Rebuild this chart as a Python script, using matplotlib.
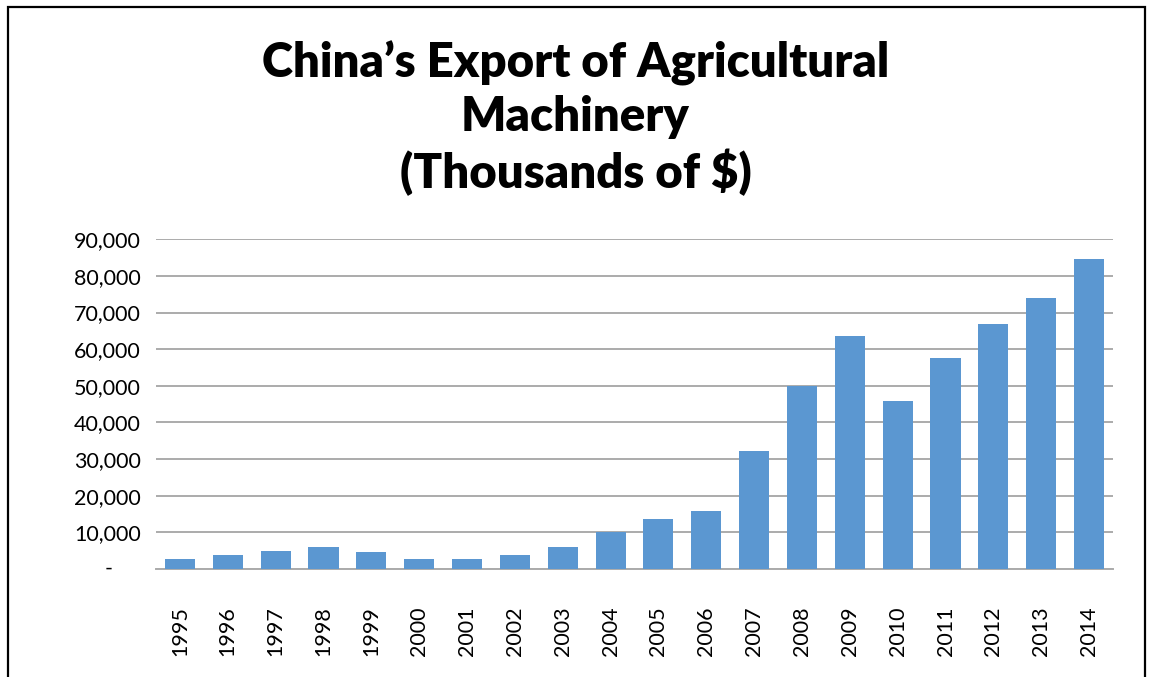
import matplotlib.pyplot as plt
import matplotlib.transforms as mtransforms
from matplotlib.patches import Rectangle
from matplotlib.ticker import FuncFormatter

# --- Export values (thousands of USD) ---
years = [str(y) for y in range(1995, 2015)]
exports = [2800, 3700, 4800, 6000, 4600, 2800, 2800, 3700, 5900, 10000,
           13700, 15900, 32300, 50000, 63600, 45800, 57500, 67000, 74000, 84500]
y_ticks = [0, 10000, 20000, 30000, 40000, 50000, 60000, 70000, 80000, 90000]

bar_color = "#5b97d1"
grid_color = "#ababab"

fig = plt.figure(figsize=(11.51, 6.77), dpi=100)

# frame around the whole chart
fig.patches.append(Rectangle((8 / 1151, -0.05), 1137 / 1151, 1.05 - 7 / 677,
                             transform=fig.transFigure, fill=False,
                             edgecolor="black", linewidth=1.6))

ax = fig.add_axes([156 / 1151, 1 - 569 / 677, 957 / 1151, (569 - 239.3) / 677])

x = range(len(years))
ax.bar(x, exports, width=0.63, color=bar_color, zorder=3)

ax.set_xlim(-0.5, len(years) - 0.5)
ax.set_ylim(0, 90000)
ax.set_yticks(y_ticks)
ax.yaxis.set_major_formatter(FuncFormatter(lambda v, p: "" if v == 0 else f"{int(v):,}"))
ax.grid(axis="y", color=grid_color, linewidth=1.4, zorder=0)

# zero is shown as a dash, accounting style
trans = mtransforms.blended_transform_factory(ax.transAxes, ax.transData)
ax.text(-0.050, y_ticks[0], "-", transform=trans, ha="center", va="center",
        fontsize=15.5, family="Lato")

ax.set_xticks(list(x))
ax.set_xticklabels(years, rotation=90, va="top")

for side in ["top", "right", "left"]:
    ax.spines[side].set_visible(False)
ax.spines["bottom"].set_color(grid_color)
ax.spines["bottom"].set_linewidth(1.4)

ax.tick_params(axis="both", length=0, labelsize=15.5, colors="black")
ax.tick_params(axis="y", pad=11)
ax.tick_params(axis="x", pad=27)
for lbl in ax.get_xticklabels() + ax.get_yticklabels():
    lbl.set_family("Lato")

fig.text(0.5, 1 - 41 / 677,
         "China\u2019s Export of Agricultural\nMachinery\n(Thousands of $)",
         ha="center", va="top", fontsize=34, fontweight="heavy",
         family="Lato", linespacing=1.24)

fig.savefig("out.png", dpi=100)
